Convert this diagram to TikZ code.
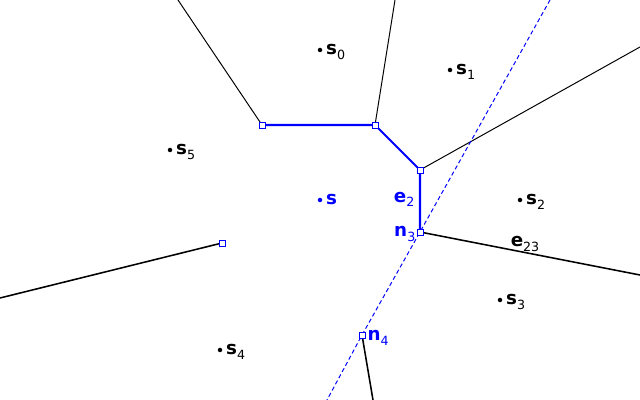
\documentclass[tikz,border=0pt]{standalone}
\usepackage{fontspec}
\setmainfont{DejaVu Sans}
\usetikzlibrary{calc,positioning}
\definecolor{vblue}{RGB}{0,0,255}
\def\lab#1#2{\textbf{#1}\raisebox{-0.45ex}{\fontsize{9}{9}\selectfont #2}}
\tikzset{
	site/.style={circle, fill=black, inner sep=0pt, minimum size=3.2pt},
	vert/.style={draw=vblue, fill=white, inner sep=0pt, minimum size=4.2pt, line width=0.6pt},
	lbl/.style={font=\fontsize{13}{13}\selectfont, inner sep=1pt},
	edgethin/.style={line width=0.7pt},
	edgethick/.style={line width=1.1pt},
	newedge/.style={line width=1.5pt, color=vblue},
	bisector/.style={line width=0.7pt, color=vblue, dash pattern=on 3pt off 2pt}
}

\begin{document}
\begin{tikzpicture}[x=0.025cm, y=-0.025cm]
			%%%%% START %%%%%
			\useasboundingbox[fill=white] (0,0) rectangle (640,400);
			
			% free ends at the border
			\coordinate (t0) at (178,0);
			\coordinate (t1) at (395,0);
			\coordinate (r1) at (640,47);
			\coordinate (r2) at (640,275);
			\coordinate (l1) at (0,298);
			\coordinate (b1) at (373,400);
			\coordinate (dtop) at (550,0);
			\coordinate (dbot) at (327,400);
			
			% vertices
			\coordinate (n0) at (262,125);
			\coordinate (n1) at (375,125);
			\coordinate (n2) at (420,170);
			\coordinate (n3) at (420,232);
			\coordinate (n5) at (222,243);
			\coordinate (n4) at (362,335);
			
			\draw[edgethin] (t0) -- (n0);
			\draw[edgethin] (t1) -- (n1);
			\draw[edgethin] (n2) -- (r1);
			\draw[edgethick] (n3) -- (r2);
			\draw[edgethick] (n5) -- (l1);
			\draw[edgethick] (n4) -- (b1);
			
			\draw[bisector] (dtop) -- (n3) -- (n4) -- (dbot);
			\draw[newedge] (n0) -- (n1) -- (n2) -- (n3);
			
			\foreach \v in {n0,n1,n2,n3,n4,n5}
				\node[vert] at (\v) {};
			
			% sites
			\node[site] (s0) at (320,50) {};
			\node[site] (s1) at (450,70) {};
			\node[site] (s2) at (520,200) {};
			\node[site] (s3) at (500,300) {};
			\node[site] (s4) at (220,350) {};
			\node[site] (s5) at (170,150) {};
			\node[site, fill=vblue] (s) at (320,200) {};
			
			\node[lbl, anchor=west] (ls0) at ($(s0.east)+(2,2)$) {\lab{s}{0}};
			\node[lbl, anchor=west] (ls1) at ($(s1.east)+(2,2)$) {\lab{s}{1}};
			\node[lbl, anchor=west] (ls2) at ($(s2.east)+(2,2)$) {\lab{s}{2}};
			\node[lbl, anchor=west] (ls3) at ($(s3.east)+(2,2)$) {\lab{s}{3}};
			\node[lbl, anchor=west] (ls4) at ($(s4.east)+(2,2)$) {\lab{s}{4}};
			\node[lbl, anchor=west] (ls5) at ($(s5.east)+(2,2)$) {\lab{s}{5}};
			\node[lbl, anchor=west, text=vblue] (ls) at ($(s.east)+(2,0)$) {\textbf{s}};
			
			\node[lbl, anchor=east, text=vblue] (le2) at ($(n2)!0.47!(n3)+(-4,0)$) {\lab{e}{2}};
			\node[lbl, anchor=east, text=vblue] (ln3) at ($(n3)+(-3,2)$) {\lab{n}{3}};
			\node[lbl, anchor=west, text=vblue] (ln4) at ($(n4)+(4,3)$) {\lab{n}{4}};
			\node[lbl] (le23) at (525,244) {\lab{e}{23}};
			
			%%%%% END %%%%%
\end{tikzpicture}
\end{document}
